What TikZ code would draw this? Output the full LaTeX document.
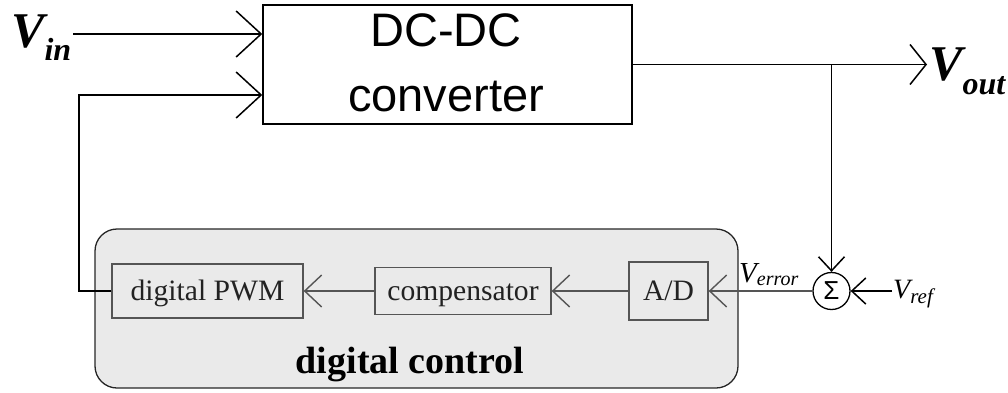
\documentclass[tikz,border=0pt]{standalone}
\usepackage{fontspec}
\setmainfont{Liberation Serif}
\newfontfamily\arialf{Liberation Sans}
\usetikzlibrary{arrows.meta}
\definecolor{panel}{HTML}{EAEAEA}
\definecolor{inner}{HTML}{555555}
\definecolor{itext}{HTML}{222222}
\tikzset{
  wire/.style={line width=1.5pt, black},
  iwire/.style={line width=1.4pt, inner},
  arrbig/.style={wire, -{Straight Barb[length=25pt,width=46pt,line width=1.5pt]}},
  arrout/.style={wire, -{Straight Barb[length=16pt,width=40pt,line width=1.5pt]}},
  arrsm/.style={wire, -{Straight Barb[length=14pt,width=26pt,line width=1.5pt]}},
  arrin/.style={iwire, -{Straight Barb[length=17pt,width=32pt,line width=1.4pt]}},
  blk/.style={draw=inner, line width=1.3pt, fill=panel, text=itext, inner sep=0pt,
    text height=22pt, text depth=3pt, font=\fontsize{29.6}{32}\selectfont},
}
\begin{document}
\begin{tikzpicture}[x=1pt,y=-1pt]
\useasboundingbox (0,0) rectangle (1008,392);
% panel
\node[draw=black!85, line width=1.3pt, fill=panel, rounded corners=22pt,
  minimum width=643pt, minimum height=159pt, inner sep=0pt] (panel) at (416.5,308.5) {};
\node[anchor=base, font=\fontsize{38}{40}\selectfont\bfseries] (ptitle) at (410,373) {digital control};
% DC-DC
\node[draw, line width=1.5pt, minimum width=369pt, minimum height=119pt, inner sep=0pt] (dc) at (447.5,64.5) {};
\node[font=\arialf\fontsize{47}{65}\selectfont, align=center, inner sep=0pt] (dctext) at (446,62.5) {DC-DC\\converter};
% inner blocks
\node[blk, minimum width=191pt, minimum height=54pt] (pwm) at (207.5,291) {digital PWM};
\node[blk, minimum width=176pt, minimum height=47pt] (comp) at (463,291) {compensator};
\node[blk, minimum width=79pt, minimum height=58pt] (ad) at (668.5,291) {A/D};
% sum
\node[draw, line width=1.3pt, circle, minimum size=37pt, inner sep=0pt, fill=white,
  font=\arialf\fontsize{26}{26}\selectfont] (sum) at (831.5,291) {Σ};
% labels
\node[anchor=base west, inner sep=2pt, font=\fontsize{50}{52}\selectfont\bfseries\itshape] (vin) at (9,47)
  {V\raisebox{-13pt}{\fontsize{32}{34}\selectfont in}};
\node[anchor=base west, inner sep=2pt, font=\fontsize{50}{52}\selectfont\bfseries\itshape] (vout) at (927,80)
  {V\raisebox{-14pt}{\fontsize{32}{34}\selectfont out}};
\node[anchor=base west, inner sep=0pt, font=\fontsize{29}{30}\selectfont\itshape] (verr) at (739,282)
  {V\raisebox{-3pt}{\fontsize{20}{22}\selectfont error}};
\node[anchor=base west, inner sep=1pt, font=\fontsize{28}{30}\selectfont\itshape] (vref) at (892,298)
  {V\raisebox{-5pt}{\fontsize{21}{22}\selectfont ref}};
% coordinates
\coordinate (vinpt) at (0,34);
\coordinate (fbpt) at (79,95);
% connectors
\draw[arrbig] (vin.east |- vinpt) -- (dc.west |- vinpt);
\draw[arrbig] (pwm.west) -| (fbpt) -- (dc.west |- fbpt);
\draw[arrout] (dc.east) -- (vout.west |- dc.east);
\draw[arrsm] (sum.north |- dc.east) -- (sum.north);
\draw[arrsm] (vref.west |- sum.east) -- (sum.east);
\draw[arrin] (sum.west) -- (ad.east);
\draw[arrin] (ad.west) -- (comp.east);
\draw[arrin] (comp.west) -- (pwm.east);
\end{tikzpicture}
\end{document}
